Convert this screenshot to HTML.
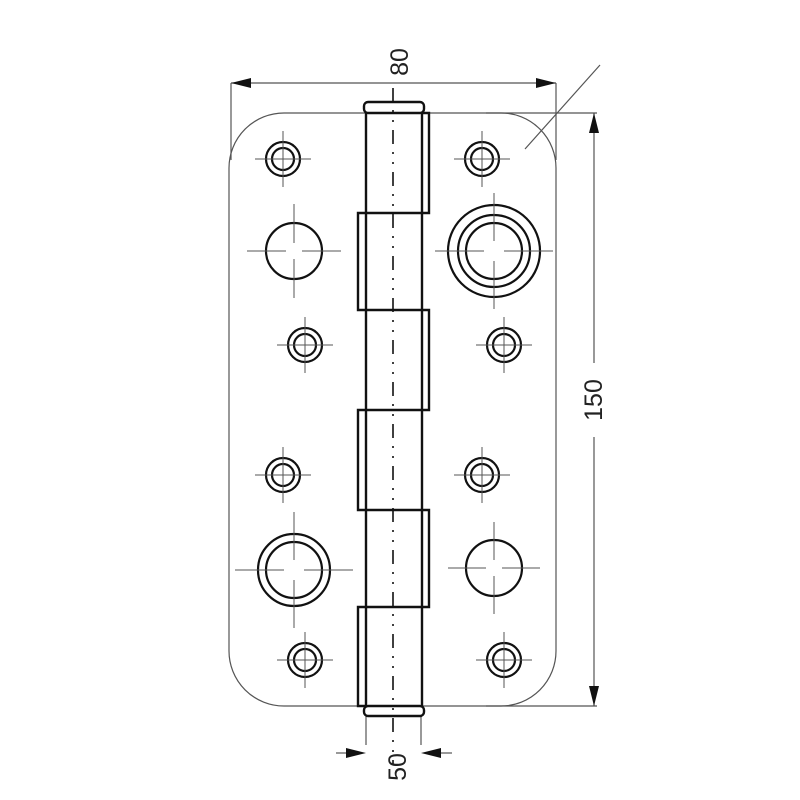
<!DOCTYPE html>
<html><head><meta charset="utf-8"><style>html,body{margin:0;padding:0;background:#fff}svg{display:block}</style></head>
<body>
<svg width="800" height="800" viewBox="0 0 800 800" xmlns="http://www.w3.org/2000/svg">
<g fill="none" stroke="#555" stroke-width="1.2">
<!-- plate -->
<path d="M366 113 L284 113 A55 55 0 0 0 229 168 L229 651 A55 55 0 0 0 284 706 L366 706"/>
<path d="M422 113 L501 113 A55 55 0 0 1 556 168 L556 651 A55 55 0 0 1 501 706 L422 706"/>
<!-- 80 dimension -->
<line x1="231" y1="83" x2="556" y2="83"/>
<line x1="231" y1="83" x2="231" y2="160"/>
<line x1="556" y1="83" x2="556" y2="160"/>
<!-- 150 dimension -->
<line x1="486" y1="113" x2="597" y2="113"/>
<line x1="486" y1="706" x2="597" y2="706"/>
<line x1="594" y1="113" x2="594" y2="363"/>
<line x1="594" y1="437" x2="594" y2="706"/>
<!-- leader -->
<line x1="525" y1="149" x2="600" y2="65"/>
<!-- 50 -->
<line x1="366" y1="715" x2="366" y2="745"/>
<line x1="421" y1="715" x2="421" y2="745"/>
<line x1="336" y1="753" x2="350" y2="753"/>
<line x1="436" y1="753" x2="452" y2="753"/>
</g>
<g fill="#111">
<polygon points="231,83 251,78 251,88"/>
<polygon points="556,83 536,78 536,88"/>
<polygon points="594,113 589,133 599,133"/>
<polygon points="594,706 589,686 599,686"/>
<polygon points="366,753 346,748 346,758"/>
<polygon points="421,753 441,748 441,758"/>
</g>
<!-- knuckles -->
<g fill="none" stroke="#111" stroke-width="2.4">
<rect x="364" y="102" width="60" height="11" rx="4"/>
<rect x="364" y="706" width="60" height="10" rx="4"/>
<line x1="366" y1="113" x2="366" y2="706"/>
<line x1="422" y1="113" x2="422" y2="706"/>
<polyline points="422,113 429,113 429,213 358,213 358,310 429,310 429,410 358,410 358,510 429,510 429,607 358,607 358,706 366,706"/>
</g>
<!-- centre line -->
<line x1="393" y1="88" x2="393" y2="765" stroke="#111" stroke-width="1.6" stroke-dasharray="14 8 2 8 2 8"/>
<g fill="none" stroke="#111" stroke-width="2.2">
<circle cx="283" cy="159" r="11"/><circle cx="283" cy="159" r="17"/>
<circle cx="482" cy="159" r="11"/><circle cx="482" cy="159" r="17"/>
<circle cx="305" cy="345" r="11"/><circle cx="305" cy="345" r="17"/>
<circle cx="504" cy="345" r="11"/><circle cx="504" cy="345" r="17"/>
<circle cx="283" cy="475" r="11"/><circle cx="283" cy="475" r="17"/>
<circle cx="482" cy="475" r="11"/><circle cx="482" cy="475" r="17"/>
<circle cx="305" cy="660" r="11"/><circle cx="305" cy="660" r="17"/>
<circle cx="504" cy="660" r="11"/><circle cx="504" cy="660" r="17"/>
<circle cx="294" cy="251" r="28"/>
<circle cx="494" cy="251" r="28"/><circle cx="494" cy="251" r="36"/><circle cx="494" cy="251" r="46"/>
<circle cx="294" cy="570" r="28"/><circle cx="294" cy="570" r="36"/>
<circle cx="494" cy="568" r="28"/>
</g>
<g stroke="#555" stroke-width="1">
<path d="M255 159h56M283 131v56 M454 159h56M482 131v56 M277 345h56M305 317v56 M476 345h56M504 317v56 M255 475h56M283 447v56 M454 475h56M482 447v56 M277 660h56M305 632v56 M476 660h56M504 632v56"/>
<path d="M247 251h39M302 251h39M294 204v39M294 259v39"/>
<path d="M435 251h49M504 251h49M494 193v48M494 261v48"/>
<path d="M235 570h49M304 570h49M294 512v48M294 580v48"/>
<path d="M448 568h38M502 568h38M494 522v38M494 576v38"/>
</g>
<g font-family="Liberation Sans, sans-serif" font-size="25" fill="#222" text-anchor="middle">
<text transform="translate(408,62) rotate(-90)">80</text>
<text transform="translate(602,400) rotate(-90)">150</text>
<text transform="translate(406,767) rotate(-90)">50</text>
</g>
</svg>
</body></html>
